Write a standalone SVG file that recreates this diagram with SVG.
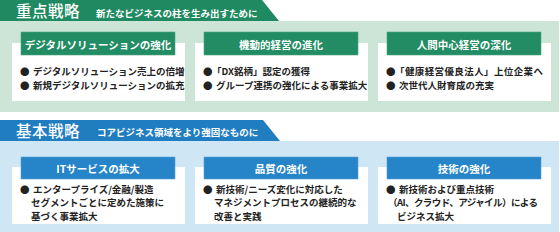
<svg xmlns="http://www.w3.org/2000/svg" width="560" height="232" viewBox="0 0 560 232">
<style>
text{font-family:"Noto Sans CJK JP","Noto Sans",sans-serif}
.title{fill:#fff;font-size:15.5px;font-weight:500;letter-spacing:0.5px}
.sub{fill:#fff;font-size:9.5px;font-weight:700}
.hd{fill:#fff;font-size:10.5px;font-weight:700;text-anchor:middle}
.bl{fill:#222;font-size:9.5px;font-weight:700}
.card{fill:#fff}
.g{fill:#1f8a61}
.gh{fill:#228c64;stroke:#4ea582;stroke-width:0.6}
.b{fill:#1f7dc0}
.bh{fill:#2684c8;stroke:#5aa2d6;stroke-width:0.6}
</style>
<rect width="560" height="232" fill="#fff"/>
<g id="top-section">
<rect x="0" y="21" width="559" height="91" fill="#cde5d6"/>
<polygon class="g" points="0,0 262,0 279,21 0,21"/>
<text class="title" x="16" y="17">重点戦略</text>
<text class="sub" x="96" y="16.5">新たなビジネスの柱を生み出すために</text>
</g>
<g id="card-digital">
<rect class="card" x="12" y="43" width="173" height="58"/>
<rect class="gh" x="21" y="32" width="154" height="23"/>
<text class="hd" x="98" y="48.5">デジタルソリューションの強化</text>
<text class="bl" x="20" y="74.5">●</text><text class="bl" x="33" y="74.5">デジタルソリューション売上の倍増</text>
<text class="bl" x="20" y="89">●</text><text class="bl" x="33" y="89">新規デジタルソリューションの拡充</text>
</g>
<g id="card-agile">
<rect class="card" x="195" y="43" width="173" height="58"/>
<rect class="gh" x="204" y="32" width="154" height="23"/>
<text class="hd" x="281" y="48.5">機動的経営の進化</text>
<text class="bl" x="203" y="74.5">●</text><text class="bl" x="212" y="74.5">「DX銘柄」認定の獲得</text>
<text class="bl" x="203" y="89">●</text><text class="bl" x="216" y="89">グループ連携の強化による事業拡大</text>
</g>
<g id="card-human">
<rect class="card" x="378" y="43" width="173" height="58"/>
<rect class="gh" x="387" y="32" width="154" height="23"/>
<text class="hd" x="464" y="48.5">人間中心経営の深化</text>
<text class="bl" x="386" y="74.5">●</text><text class="bl" x="395" y="74.5" textLength="148" lengthAdjust="spacing">「健康経営優良法人」上位企業へ</text>
<text class="bl" x="386" y="89">●</text><text class="bl" x="399" y="89">次世代人財育成の充実</text>
</g>
<g id="bottom-section">
<rect x="0" y="141" width="559" height="91" fill="#cfe6f4"/>
<polygon class="b" points="0,120 263,120 280,141 0,141"/>
<text class="title" x="16" y="137">基本戦略</text>
<text class="sub" x="97" y="136">コアビジネス領域をより強固なものに</text>
</g>
<g id="card-it">
<rect class="card" x="12" y="167" width="173" height="57"/>
<rect class="bh" x="21" y="157" width="154" height="22"/>
<text class="hd" x="98" y="172.5">ITサービスの拡大</text>
<text class="bl" x="20" y="192.5">●</text><text class="bl" x="33" y="192.5">エンタープライズ/金融/製造</text>
<text class="bl" x="31" y="206">セグメントごとに定めた施策に</text>
<text class="bl" x="31" y="219.5">基づく事業拡大</text>
</g>
<g id="card-quality">
<rect class="card" x="195" y="167" width="173" height="57"/>
<rect class="bh" x="204" y="157" width="154" height="22"/>
<text class="hd" x="281" y="172.5">品質の強化</text>
<text class="bl" x="203" y="192.5">●</text><text class="bl" x="216" y="192.5">新技術/ニーズ変化に対応した</text>
<text class="bl" x="214" y="206">マネジメントプロセスの継続的な</text>
<text class="bl" x="214" y="219.5">改善と実践</text>
</g>
<g id="card-tech">
<rect class="card" x="378" y="167" width="173" height="57"/>
<rect class="bh" x="387" y="157" width="154" height="22"/>
<text class="hd" x="464" y="172.5">技術の強化</text>
<text class="bl" x="386" y="192.5">●</text><text class="bl" x="399" y="192.5">新技術および重点技術</text>
<text class="bl" x="388" y="206" textLength="150" lengthAdjust="spacing">（AI、クラウド、アジャイル）による</text>
<text class="bl" x="397" y="219.5">ビジネス拡大</text>
</g>
<g id="connectors"></g>
</svg>
